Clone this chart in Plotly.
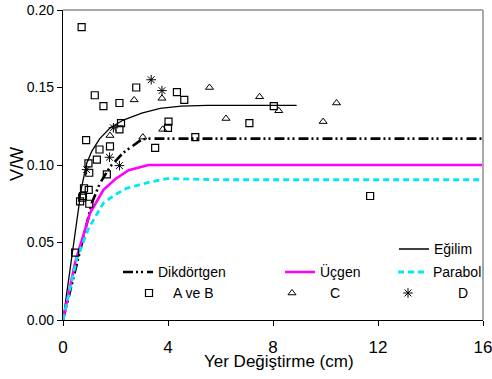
import plotly.graph_objects as go

# ---- data ----
ab_x = [0.71, 1.21, 1.54, 2.15, 2.79, 4.34, 4.62, 2.21, 2.15, 4.02, 4.00, 0.88, 1.79, 1.39,
        1.29, 0.97, 3.51, 5.04, 7.10, 8.03, 1.00, 1.67, 0.80, 0.98, 0.73, 0.65, 0.76, 1.00,
        0.46, 11.7]
ab_y = [0.189, 0.145, 0.138, 0.140, 0.150, 0.147, 0.142, 0.127, 0.123, 0.128, 0.124, 0.116,
        0.112, 0.110, 0.1035, 0.101, 0.111, 0.118, 0.127, 0.138, 0.095, 0.094, 0.085, 0.084,
        0.079, 0.0765, 0.080, 0.075, 0.0435, 0.080]

c_x = [2.71, 3.77, 5.58, 7.49, 6.21, 8.22, 3.80, 1.79, 3.04, 10.42, 9.91]
c_y = [0.142, 0.143, 0.150, 0.144, 0.130, 0.135, 0.123, 0.119, 0.118, 0.140, 0.128]

d_x = [3.36, 3.77, 1.92, 1.77, 2.15, 0.90]
d_y = [0.155, 0.148, 0.124, 0.105, 0.0996, 0.097]

egilim_x = [0, 0.4, 0.7, 0.9, 1.1, 1.4, 1.8, 2.3, 3.0, 3.7, 4.5, 5.5, 7.0, 8.9]
egilim_y = [0, 0.05, 0.085, 0.101, 0.109, 0.117, 0.124, 0.129, 0.1335, 0.1365, 0.138, 0.1385,
            0.1385, 0.1385]

dik_x = [0, 0.4, 0.85, 1.1, 1.4, 1.8, 2.3, 2.7, 3.0, 3.3, 4.0, 16]
dik_y = [0, 0.028, 0.060, 0.0755, 0.088, 0.099, 0.108, 0.113, 0.1165, 0.117, 0.117, 0.117]

ucgen_x = [0, 0.46, 1.03, 1.54, 2.0, 2.5, 3.26, 16]
ucgen_y = [0, 0.037, 0.069, 0.084, 0.091, 0.0966, 0.100, 0.100]

parabol_x = [0, 0.52, 0.97, 1.54, 2.0, 2.43, 3.19, 3.96, 6.0, 16]
parabol_y = [0, 0.039, 0.059, 0.0755, 0.081, 0.085, 0.0885, 0.0912, 0.0905, 0.0905]

x_ticks = [0, 4, 8, 12, 16]
y_ticks = [0.00, 0.05, 0.10, 0.15, 0.20]

FONT = "Liberation Sans, Arial, sans-serif"

fig = go.Figure()
fig.add_trace(go.Scatter(x=egilim_x, y=egilim_y, mode="lines", name="Eğilim",
                         line=dict(color="black", width=1.3), legend="legend"))
fig.add_trace(go.Scatter(x=dik_x, y=dik_y, mode="lines", name="Dikdörtgen",
                         line=dict(color="black", width=2.6,
                                   dash="10px,3px,2px,3px,2px,4px"), legend="legend2"))
fig.add_trace(go.Scatter(x=ucgen_x, y=ucgen_y, mode="lines", name="Üçgen",
                         line=dict(color="#FF00FF", width=2.6), legend="legend3"))
fig.add_trace(go.Scatter(x=parabol_x, y=parabol_y, mode="lines", name="Parabol",
                         line=dict(color="#00E8F0", width=2.8, dash="6px,4px"),
                         legend="legend4"))
fig.add_trace(go.Scatter(x=ab_x, y=ab_y, mode="markers", name="A ve B",
                         marker=dict(symbol="square-open", size=7, color="black",
                                     line=dict(width=1.2, color="black")), legend="legend5"))
fig.add_trace(go.Scatter(x=c_x, y=c_y, mode="markers", name="C",
                         marker=dict(symbol="triangle-up-open", size=7, color="black",
                                     line=dict(width=1, color="black")), legend="legend6"))
fig.add_trace(go.Scatter(x=d_x, y=d_y, mode="markers", name="D",
                         marker=dict(symbol="asterisk-open", size=8, color="black",
                                     line=dict(width=1, color="black")), legend="legend7"))

L, R, T, B = 63, 483, 10, 320
W = R - L
H = B - T


def px2x(p):
    return (p - L) / W


def leg(origin_px, center_py, itemwidth=30):
    top = center_py - 15.6
    return dict(x=px2x(origin_px), xanchor="left", y=(B - top) / H, yanchor="top",
                bgcolor="rgba(0,0,0,0)", borderwidth=0, itemwidth=itemwidth,
                font=dict(family=FONT, size=14, color="black"))


fig.update_layout(
    width=492, height=379,
    margin=dict(l=L, r=492 - R, t=T, b=379 - B, autoexpand=False),
    paper_bgcolor="white", plot_bgcolor="white",
    showlegend=True,
    font=dict(family=FONT, color="black"),
    legend=leg(394, 249),
    legend2=leg(118, 272),
    legend3=leg(280, 272),
    legend4=leg(393, 272),
    legend5=leg(125, 293, 38),
    legend6=leg(254, 293, 66),
    legend7=leg(358, 293, 90),
    xaxis=dict(range=[0, 16], tickvals=x_ticks, ticktext=[str(v) for v in x_ticks],
               showgrid=False, zeroline=False, showline=True, linecolor="black",
               linewidth=1.3, ticks="outside", ticklen=5, tickcolor="black",
               tickfont=dict(family=FONT, size=17, color="black"), ticklabelstandoff=6,
               ticklabeloverflow="allow"),
    yaxis=dict(range=[0, 0.2], tickvals=y_ticks, ticktext=[f"{v:.2f}" for v in y_ticks],
               showgrid=False, zeroline=False, showline=True, linecolor="black",
               linewidth=1.3, ticks="outside", ticklen=5, tickcolor="black",
               tickfont=dict(family=FONT, size=14, color="black"), ticklabelstandoff=0,
               ticklabeloverflow="allow"),
    shapes=[
        dict(type="line", xref="paper", yref="paper", x0=0, x1=1, y0=1, y1=1,
             line=dict(color="#A8A8A8", width=2)),
        dict(type="line", xref="paper", yref="paper", x0=1, x1=1, y0=0, y1=1,
             line=dict(color="#A8A8A8", width=2)),
    ],
    annotations=[
        dict(text="Yer Değiştirme (cm)", xref="paper", yref="paper",
             x=px2x(278.5), y=(B - 361) / H, xanchor="center", yanchor="middle",
             showarrow=False, font=dict(family=FONT, size=17, color="black")),
        dict(text="V/W", xref="paper", yref="paper", x=px2x(17), y=(B - 164) / H,
             xanchor="center", yanchor="middle", textangle=-90, showarrow=False,
             font=dict(family=FONT, size=18, color="black")),
    ],
)

fig.write_html("out.html", config={"displayModeBar": False},
               post_script="document.body.style.margin='0';")
